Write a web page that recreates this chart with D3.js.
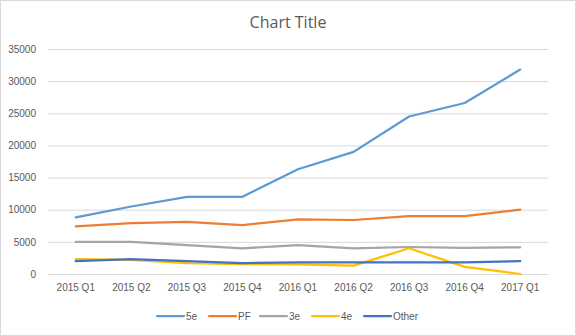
<!DOCTYPE html>
<html><head><meta charset="utf-8">
<script src="https://cdn.jsdelivr.net/npm/d3@7"></script>
<style>body{margin:0;background:#fff}svg{display:block}</style>
</head><body>
<svg id="c" width="576" height="336"></svg>
<script>
const categories = ["2015 Q1","2015 Q2","2015 Q3","2015 Q4","2016 Q1","2016 Q2","2016 Q3","2016 Q4","2017 Q1"];
const s5e   = [8800,10500,12000,12000,16300,19000,24500,26600,31800];
const sPF   = [7400,7900,8100,7600,8500,8400,9000,9000,10000];
const s3e   = [5000,5000,4500,4000,4500,4000,4200,4050,4150];
const s4e   = [2300,2200,1700,1550,1500,1300,4000,1100,0];
const sOther= [2000,2300,2000,1700,1800,1800,1800,1800,2000];
const yTicks = [0,5000,10000,15000,20000,25000,30000,35000];
const seriesNames = ["5e","PF","3e","4e","Other"];
const colors = ["#5B9BD5","#ED7D31","#A5A5A5","#FFC000","#4472C4"];
const seriesData = [s5e,sPF,s3e,s4e,sOther];

const svg = d3.select("#c");
const font = "'Liberation Sans', Arial, sans-serif";
svg.append("rect").attr("x",0.5).attr("y",0.5).attr("width",575).attr("height",335)
  .attr("fill","#fff").attr("stroke","#D9D9D9");

const x = d3.scaleBand().domain(categories).range([48,548]);
const y = d3.scaleLinear().domain([0,35000]).range([274,49]);

svg.append("text").attr("x",288).attr("y",28).attr("text-anchor","middle")
  .attr("font-family","'Open Sans', 'Liberation Sans', sans-serif")
  .attr("font-size",16).attr("fill","#595959").text("Chart Title");

const gy = svg.append("g").attr("transform","translate(48,0)")
  .call(d3.axisLeft(y).tickValues(yTicks).tickSize(-500).tickFormat(d3.format("d")));
gy.select(".domain").remove();
gy.selectAll(".tick line").attr("stroke","#D9D9D9");
gy.selectAll(".tick text").attr("x",-12).attr("font-family",font).attr("font-size",10).attr("fill","#595959");

const gx = svg.append("g").attr("transform","translate(0,274)")
  .call(d3.axisBottom(x).tickSize(0).tickPadding(10));
gx.select(".domain").remove();
gx.selectAll(".tick text").attr("font-family",font).attr("font-size",10).attr("fill","#595959");

const line = d3.line().x((d,i)=>x(categories[i])+x.bandwidth()/2).y(d=>y(d));
seriesData.forEach((s,k)=>{
  svg.append("path").datum(s).attr("d",line).attr("fill","none")
    .attr("stroke",colors[k]).attr("stroke-width",2.25).attr("stroke-linejoin","round").attr("stroke-linecap","round");
});

const legX = [157,209,260,312,364];
const lg = svg.append("g");
seriesNames.forEach((n,k)=>{
  lg.append("line").attr("x1",legX[k]).attr("x2",legX[k]+27).attr("y1",316).attr("y2",316)
    .attr("stroke",colors[k]).attr("stroke-width",2.25).attr("stroke-linecap","round");
  lg.append("text").attr("x",legX[k]+29).attr("y",320).attr("font-family",font).attr("font-size",10)
    .attr("fill","#595959").text(n);
});
</script>
</body></html>
